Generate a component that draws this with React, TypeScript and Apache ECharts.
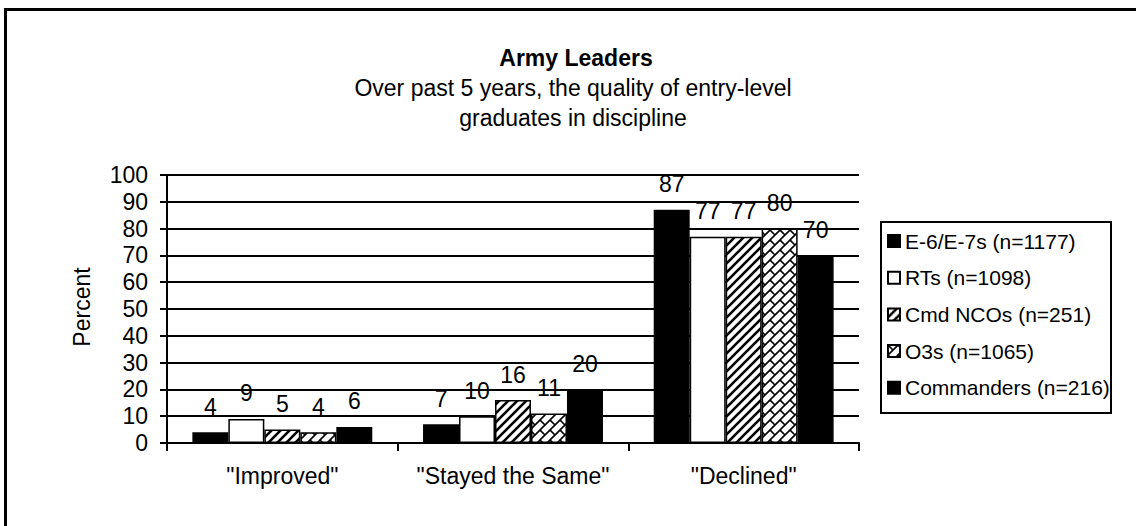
import React, { useEffect, useRef } from "react";
import * as echarts from "echarts";

const categories = ['"Improved"', '"Stayed the Same"', '"Declined"'];
const seriesNames = [
  "E-6/E-7s (n=1177)",
  "RTs (n=1098)",
  "Cmd NCOs (n=251)",
  "O3s (n=1065)",
  "Commanders (n=216)",
];
const e67 = [4, 7, 87];
const rts = [9, 10, 77];
const cmdNcos = [5, 16, 77];
const o3s = [4, 11, 80];
const commanders = [6, 20, 70];
const yTicks = { min: 0, max: 100, interval: 10 };

const FONT = "'Liberation Sans', Arial, sans-serif";

function hatchCanvas(): HTMLCanvasElement {
  const s = 9;
  const c = document.createElement("canvas");
  c.width = s;
  c.height = s;
  const ctx = c.getContext("2d")!;
  ctx.fillStyle = "#fff";
  ctx.fillRect(0, 0, s, s);
  ctx.strokeStyle = "#000";
  ctx.lineWidth = 2.6;
  ctx.beginPath();
  ctx.moveTo(-1, s + 1);
  ctx.lineTo(s + 1, -1);
  ctx.moveTo(-2, 2);
  ctx.lineTo(2, -2);
  ctx.moveTo(s - 2, s + 2);
  ctx.lineTo(s + 2, s - 2);
  ctx.stroke();
  return c;
}

function crossCanvas(): HTMLCanvasElement {
  const s = 10;
  const c = document.createElement("canvas");
  c.width = s;
  c.height = s;
  const ctx = c.getContext("2d")!;
  ctx.fillStyle = "#fff";
  ctx.fillRect(0, 0, s, s);
  ctx.strokeStyle = "#000";
  ctx.lineWidth = 1.6;
  ctx.beginPath();
  ctx.moveTo(-1, s + 1);
  ctx.lineTo(s + 1, -1);
  ctx.moveTo(-2, 2);
  ctx.lineTo(2, -2);
  ctx.moveTo(s - 2, s + 2);
  ctx.lineTo(s + 2, s - 2);
  ctx.moveTo(0, 0);
  ctx.lineTo(s / 2, s / 2);
  ctx.stroke();
  return c;
}

export default function App() {
  const ref = useRef<HTMLDivElement>(null);
  useEffect(() => {
    document.body.style.margin = "0";
    const chart = echarts.init(ref.current!, undefined, { renderer: "svg" });
    const hatch = { image: hatchCanvas(), repeat: "repeat" };
    const cross = { image: crossCanvas(), repeat: "repeat" };
    const fills: any[] = ["#000", "#fff", hatch, cross, "#000"];
    const data = [e67, rts, cmdNcos, o3s, commanders];

    const series = data.map((d, i) => ({
      name: seriesNames[i],
      type: "bar",
      data: d,
      barGap: "0%",
      barCategoryGap: "22%",
      itemStyle: { color: fills[i], borderColor: "#000", borderWidth: 1.5 },
      label: {
        show: true,
        position: "top",
        distance: 14,
        color: "#000",
        fontFamily: FONT,
        fontSize: 23,
      },
    }));

    chart.setOption({
      animation: false,
      backgroundColor: "#fff",
      grid: { left: 167, right: 277, top: 175, bottom: 83 },
      xAxis: {
        type: "category",
        data: categories,
        axisLine: { lineStyle: { color: "#000", width: 2 } },
        axisTick: { show: true, length: 8, lineStyle: { color: "#000", width: 2 } },
        axisLabel: {
          color: "#000",
          fontFamily: FONT,
          fontSize: 23,
          margin: 21,
          interval: 0,
        },
        splitLine: { show: false },
      },
      yAxis: {
        type: "value",
        min: yTicks.min,
        max: yTicks.max,
        interval: yTicks.interval,
        axisLine: { show: true, lineStyle: { color: "#000", width: 2 } },
        axisTick: { show: true, length: 7, lineStyle: { color: "#000", width: 2 } },
        axisLabel: { color: "#000", fontFamily: FONT, fontSize: 23, margin: 19 },
        splitLine: { show: true, lineStyle: { color: "#000", width: 2 } },
      },
      legend: {
        orient: "vertical",
        left: 887,
        top: 230,
        padding: 0,
        itemGap: 14.7,
        itemWidth: 12,
        itemHeight: 12,
        icon: "rect",
        selectedMode: false,
        textStyle: { color: "#000", fontFamily: FONT, fontSize: 21, lineHeight: 22 },
        data: seriesNames,
      },
      graphic: [
        {
          type: "rect",
          shape: { x: 5.5, y: 9.5, width: 1300, height: 700 },
          style: { fill: "none", stroke: "#000", lineWidth: 3 },
          silent: true,
          z: -10,
        },
        {
          type: "rect",
          shape: { x: 881, y: 222, width: 230, height: 191 },
          style: { fill: "none", stroke: "#000", lineWidth: 2 },
          silent: true,
        },
        {
          type: "text",
          x: 576,
          y: 58,
          style: {
            text: "Army Leaders",
            align: "center",
            verticalAlign: "middle",
            fill: "#000",
            font: `bold 23px ${FONT}`,
          },
        },
        {
          type: "text",
          x: 573,
          y: 88,
          style: {
            text: "Over past 5 years, the quality of entry-level",
            align: "center",
            verticalAlign: "middle",
            fill: "#000",
            font: `23px ${FONT}`,
          },
        },
        {
          type: "text",
          x: 573,
          y: 118,
          style: {
            text: "graduates in discipline",
            align: "center",
            verticalAlign: "middle",
            fill: "#000",
            font: `23px ${FONT}`,
          },
        },
        {
          type: "text",
          x: 82,
          y: 307,
          rotation: Math.PI / 2,
          style: {
            text: "Percent",
            align: "center",
            verticalAlign: "middle",
            fill: "#000",
            font: `23px ${FONT}`,
          },
        },
      ],
      series,
    });
    return () => chart.dispose();
  }, []);
  return (
    <div
      ref={ref}
      style={{ position: "fixed", left: 0, top: 0, width: 1136, height: 526 }}
    />
  );
}
